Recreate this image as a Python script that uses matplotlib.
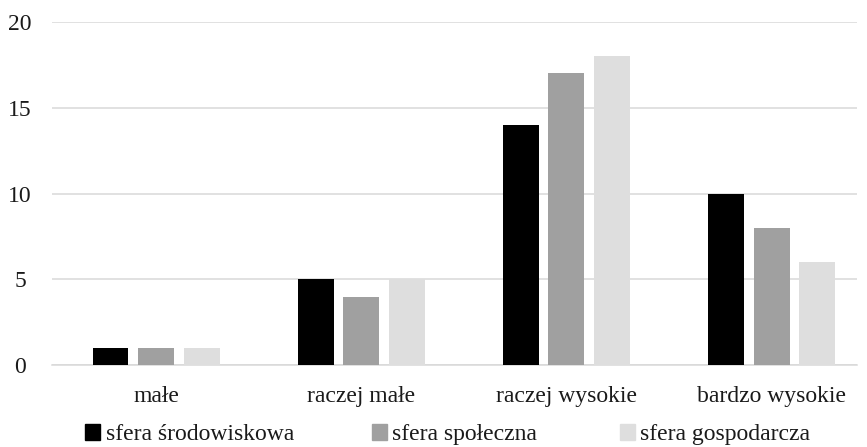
import numpy as np
import matplotlib
matplotlib.use("Agg")
import matplotlib.pyplot as plt
from matplotlib.patches import Patch

plt.rcParams['font.family'] = ['Liberation Serif', 'DejaVu Serif']

categories = ['małe', 'raczej małe', 'raczej wysokie', 'bardzo wysokie']
srodowiskowa = [1, 5, 14, 10]
spoleczna = [1, 4, 17, 8]
gospodarcza = [1, 5, 18, 6]

series = [
    ('sfera środowiskowa', srodowiskowa, '#000000'),
    ('sfera społeczna', spoleczna, '#a0a0a0'),
    ('sfera gospodarcza', gospodarcza, '#dedede'),
]

fig = plt.figure(figsize=(8.67, 4.47), dpi=100)
ax = fig.add_axes([0.060, 0.183, 0.928, 0.768])

x = np.arange(len(categories))
width = 0.175
step = 0.222
for i, (name, vals, color) in enumerate(series):
    ax.bar(x + (i - 1) * step, vals, width, color=color, label=name, zorder=3)

ax.set_xlim(-0.507, 3.414)
ax.set_ylim(0, 20)
ax.set_yticks([0, 5, 10, 15, 20])
ax.set_xticks(x)
ax.set_xticklabels(categories)
ax.tick_params(axis='both', length=0, labelsize=17, colors='#1a1a1a')
ax.tick_params(axis='x', pad=15)
ax.tick_params(axis='y', pad=23)
for lbl in ax.get_yticklabels():
    lbl.set_horizontalalignment('center')

ax.grid(axis='y', color='#d9d9d9', linewidth=1.1, zorder=0)
for side in ['top', 'right', 'left']:
    ax.spines[side].set_visible(False)
ax.spines['bottom'].set_color('#d9d9d9')
ax.spines['bottom'].set_linewidth(1.1)

# one legend per entry so each sits at its own spot along the bottom
legend_x = [0.098, 0.429, 0.715]
for (name, vals, color), lx in zip(series, legend_x):
    leg = fig.legend(handles=[Patch(color=color, label=name)], loc='center left',
                     bbox_to_anchor=(lx, 0.027), frameon=False, fontsize=17,
                     handlelength=0.62, handleheight=0.62, handletextpad=0.25,
                     borderpad=0, borderaxespad=0)
    for t in leg.get_texts():
        t.set_color('#1a1a1a')

plt.savefig('out.png', dpi=100)
